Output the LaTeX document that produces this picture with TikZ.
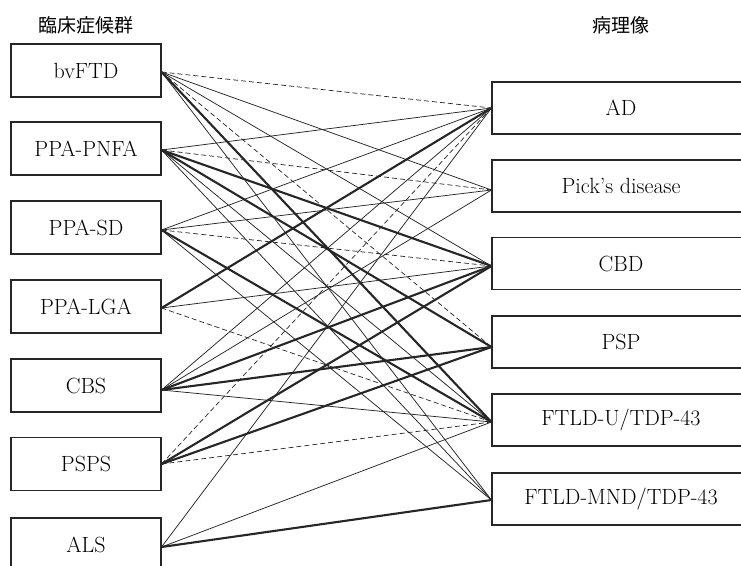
\documentclass[tikz,border=0pt]{standalone}
\usepackage{fontspec}
\newfontfamily\cjkfont{Noto Sans CJK JP}
\begin{document}
\begin{tikzpicture}[x=1pt,y=-1pt,
  lbox/.style={draw=black!85, line width=1.1pt, minimum width=150pt, minimum height=53pt, inner sep=0pt, font=\fontsize{22}{26}\selectfont},
  rbox/.style={draw=black!85, line width=1.1pt, minimum width=258pt, minimum height=52pt, inner sep=0pt, font=\fontsize{22}{26}\selectfont},
  head/.style={font=\cjkfont\fontsize{19}{22}\selectfont, inner sep=0pt},
  thin/.style={draw=black!85, line width=0.75pt},
  thick/.style={draw=black!85, line width=2.1pt},
  dsh/.style={draw=black!85, line width=0.7pt, dash pattern=on 5pt off 3pt}]
\useasboundingbox (0,0) rectangle (741,565);
\fill[white] (0,0) rectangle (741,565);
\node[head] (hl) at (86,25) {臨床症候群};
\node[head] (hr) at (621,25) {病理像};
% left boxes
\node[lbox] (bv) at (86,70.5) {bvFTD};
\node[lbox] (pn) at (86,148.5) {PPA-PNFA};
\node[lbox] (sd) at (86,227.5) {PPA-SD};
\node[lbox] (lga) at (86,306.5) {PPA-LGA};
\node[lbox] (cbs) at (86,385.5) {CBS};
\node[lbox] (psps) at (86,464) {PSPS};
\node[lbox] (als) at (86,544.5) {ALS};
% right boxes
\node[rbox] (ad) at (621,108) {AD};
\node[rbox] (pick) at (621,186) {Pick's disease};
\node[rbox] (cbd) at (621,263.5) {CBD};
\node[rbox] (psp) at (621,342) {PSP};
\node[rbox] (ftu) at (621,420) {FTLD-U/TDP-43};
\node[rbox] (ftm) at (621,499) {FTLD-MND/TDP-43};
% anchors
\coordinate (bvA) at ([yshift=-1.5pt]bv.east);
\coordinate (pnA) at ([yshift=-1.5pt]pn.east);
\coordinate (sdA) at ([yshift=-2.5pt]sd.east);
\coordinate (lgaA) at ([yshift=-1.5pt]lga.east);
\coordinate (cbsA) at ([yshift=-4.5pt]cbs.east);
\coordinate (pspsA) at (psps.east);
\coordinate (alsA) at ([yshift=-2.5pt]als.east);
\coordinate (adA) at (ad.west);
\coordinate (pickA) at ([yshift=-4pt]pick.west);
\coordinate (cbdA) at ([yshift=-2.5pt]cbd.west);
\coordinate (pspA) at ([yshift=-5pt]psp.west);
\coordinate (ftuA) at ([yshift=-2pt]ftu.west);
\coordinate (ftmA) at ([yshift=-1pt]ftm.west);
% thin
\draw[thin] (bvA) -- (pickA);
\draw[thin] (bvA) -- (cbdA);
\draw[thin] (bvA) -- (ftmA);
\draw[thin] (pnA) -- (adA);
\draw[thin] (pnA) -- (ftuA);
\draw[thin] (pnA) -- (ftmA);
\draw[thin] (sdA) -- (adA);
\draw[thin] (sdA) -- (pickA);
\draw[thin] (sdA) -- (ftmA);
\draw[thin] (lgaA) -- (cbdA);
\draw[thin] (cbsA) -- (adA);
\draw[thin] (cbsA) -- (pickA);
\draw[thin] (cbsA) -- (ftuA);
\draw[thin] (alsA) -- (adA);
\draw[thin] (alsA) -- (ftuA);
% thick
\draw[thick] (bvA) -- (ftuA);
\draw[thick] (pnA) -- (cbdA);
\draw[thick] (pnA) -- (pspA);
\draw[thick] (sdA) -- (ftuA);
\draw[thick] (lgaA) -- (adA);
\draw[thick] (cbsA) -- (cbdA);
\draw[thick] (cbsA) -- (pspA);
\draw[thick] (pspsA) -- (cbdA);
\draw[thick] (pspsA) -- (pspA);
\draw[thick] (alsA) -- (ftmA);
% dashed
\draw[dsh] (bvA) -- (adA);
\draw[dsh] (bvA) -- (pspA);
\draw[dsh] (pnA) -- (pickA);
\draw[dsh] (sdA) -- (cbdA);
\draw[dsh] (lgaA) -- (ftuA);
\draw[dsh] (pspsA) -- (adA);
\draw[dsh] (pspsA) -- (ftuA);
\end{tikzpicture}
\end{document}
